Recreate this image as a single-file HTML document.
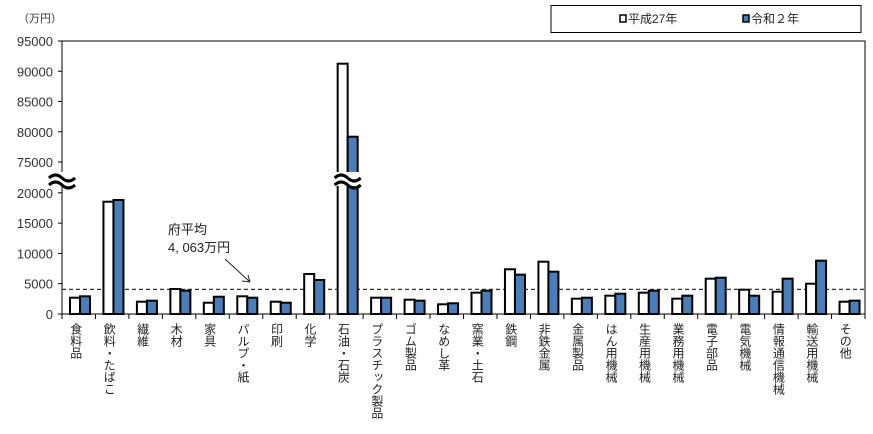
<!DOCTYPE html>
<html><head><meta charset="utf-8"><style>
body{margin:0;background:#fff;}
svg{font-family:"Liberation Sans","Noto Sans CJK JP",sans-serif;}
</style></head><body>
<svg id="chart" width="873" height="429" viewBox="0 0 873 429">
<text x="18" y="22" font-size="11" fill="#333">（万円）</text>
<g>
<rect x="551" y="5.5" width="310" height="27" fill="#fff" stroke="#000" stroke-width="1"/>
<rect x="620" y="15" width="6" height="7" fill="#fff" stroke="#000" stroke-width="1.5"/>
<text x="628" y="23" font-size="12" fill="#222">平成27年</text>
<rect x="743" y="15" width="6" height="7" fill="#4a7ebb" stroke="#000" stroke-width="1.5"/>
<text x="751" y="23" font-size="12" fill="#222">令和２年</text>
</g>
<g id="plot"></g>
</svg>
<script>
const categories=["食料品","飲料・たばこ","繊維","木材","家具","パルプ・紙","印刷","化学","石油・石炭","プラスチック製品","ゴム製品","なめし革","窯業・土石","鉄鋼","非鉄金属","金属製品","はん用機械","生産用機械","業務用機械","電子部品","電気機械","情報通信機械","輸送用機械","その他"];
const seriesH27=[2690,18530,2030,4125,1860,2920,2030,6600,91250,2690,2360,1600,3520,7380,8630,2530,3020,3520,2530,5830,4010,3680,5000,2030];
const seriesR2=[2920,18810,2200,3850,2850,2690,1860,5610,79180,2690,2200,1770,3850,6490,6980,2690,3350,3850,3020,5990,3020,5830,8800,2200];
const lowTicks=[0,5000,10000,15000,20000];
const highTicks=[75000,80000,85000,90000,95000];
const prefAverage=4063;

const NS="http://www.w3.org/2000/svg";
const g=document.getElementById('plot');
const L=62,R=865,T=41,B=314;
const px=30.3/5000;
function y(v){ if(v<=20000) return B-v*px; return 162-(v-75000)*(121/20000); }
const cw=(R-L)/categories.length;
function xc(i){return L+i*cw;}
function mk(tag,attrs){const e=document.createElementNS(NS,tag);for(const k in attrs)e.setAttribute(k,attrs[k]);g.appendChild(e);return e;}

let e=mk('rect',{x:L,y:T,width:R-L,height:B-T,fill:'none',stroke:'#000','stroke-width':1});


lowTicks.concat(highTicks).forEach(t=>{
  const yy=y(t);
  let l=mk('line',{x1:L-4,x2:L,y1:yy,y2:yy,stroke:'#000'});
  
  
  let tx=mk('text',{x:L-9,y:yy+5,'text-anchor':'end','font-size':13,fill:'#333'});
  tx.textContent=t;
  
  
});
for(let i=0;i<=categories.length;i++){
  let l=mk('line',{x1:xc(i),x2:xc(i),y1:B,y2:B+5,stroke:'#000'});
  
  
}
let avg=mk('line',{x1:L,x2:R,y1:y(prefAverage),y2:y(prefAverage),stroke:'#333','stroke-dasharray':'4,3','stroke-width':1.2});


categories.forEach((c,i)=>{
  const x0=xc(i)+8;
  let b1=mk('rect',{x:x0,y:y(seriesH27[i]),width:10,height:B-y(seriesH27[i]),fill:'#fff',stroke:'#000','stroke-width':2});
  
  
  let b2=mk('rect',{x:x0+10,y:y(seriesR2[i]),width:10,height:B-y(seriesR2[i]),fill:'#4a7ebb',stroke:'#000','stroke-width':2});
  
  
  let t=mk('text',{x:xc(i)+cw/2-3,y:323,'font-size':12,fill:'#222','writing-mode':'tb','glyph-orientation-vertical':0});
  t.style.writingMode='vertical-rl';
  t.textContent=c;
  
  
});
function brk(cx,w){
  let r=mk('rect',{x:cx-w/2,y:172,width:w,height:14,fill:'#fff'});
  
  
  for(const dy of [176,183]){
    let p=mk('path',{d:`M${cx-w/2} ${dy+2} q${w/4} -6 ${w/2} 0 t${w/2} 0`,fill:'none',stroke:'#000','stroke-width':3});
    
    
  }
}
brk(L,26);
brk(xc(8)+18,26);
let a1=mk('text',{x:168,y:234,'font-size':13,fill:'#222'});a1.textContent='府平均';


let a2=mk('text',{x:168,y:252,'font-size':13,fill:'#222'});a2.textContent='4, 063万円';


let ar=mk('path',{d:'M225 259 L250 282 M250 282 L242 281 M250 282 L248 275',stroke:'#222',fill:'none','stroke-width':1});


</script>
</body></html>
